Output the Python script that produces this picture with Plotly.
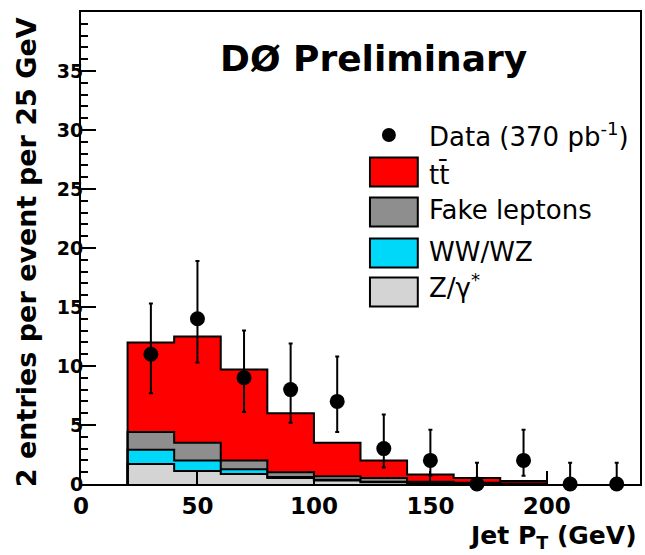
import plotly.graph_objects as go
import numpy as np

# ---------------- data ----------------
bin_edges = [20, 40, 60, 80, 100, 120, 140, 160, 180, 200]
z_gamma = [1.7, 1.1, 0.85, 0.5, 0.3, 0.15, 0.05, 0.02, 0.0]
ww_wz = [1.2, 0.9, 0.4, 0.1, 0.05, 0.05, 0.02, 0.0, 0.0]
fake_leptons = [1.5, 1.5, 0.75, 0.4, 0.3, 0.3, 0.13, 0.08, 0.05]
ttbar = [7.6, 9.0, 7.7, 5.0, 2.85, 1.5, 0.6, 0.4, 0.2]

data_x = [30, 50, 70, 90, 110, 130, 150, 170, 190, 210, 230]
data_y = [11, 14, 9, 8, 7, 3, 2, 0, 2, 0, 0]
data_err_up = [4.3, 4.9, 4.0, 3.9, 3.8, 2.9, 2.6, 1.8, 2.6, 1.8, 1.8]
data_err_dn = [3.3, 3.7, 2.9, 2.8, 2.6, 1.6, 1.3, 0.0, 1.3, 0.0, 0.0]

x_ticks = [0, 50, 100, 150, 200]
y_ticks = [0, 5, 10, 15, 20, 25, 30, 35]

layers = [
    ("Z/γ*", z_gamma, "#d4d4d4"),
    ("WW/WZ", ww_wz, "#00d8fa"),
    ("Fake leptons", fake_leptons, "#8e8e8e"),
    ("tt̄", ttbar, "#ff0000"),
]

fig = go.Figure()
cum = np.zeros(len(z_gamma))
for i, (name, vals, col) in enumerate(layers):
    cum = cum + np.array(vals)
    xs = [bin_edges[0]] + bin_edges[:-1] + [bin_edges[-1], bin_edges[-1]]
    ys = [0.0] + list(cum) + [float(cum[-1]), 0.0]
    fig.add_trace(go.Scatter(
        x=xs, y=ys, mode="lines", line=dict(shape="hv", color="black", width=2),
        fill="tozeroy" if i == 0 else "tonexty", fillcolor=col, name=name,
        showlegend=False, hoverinfo="skip"))

fig.add_trace(go.Scatter(
    x=data_x, y=data_y, mode="markers", name="Data",
    marker=dict(color="black", size=15),
    error_y=dict(type="data", symmetric=False, array=data_err_up,
                 arrayminus=data_err_dn, color="black", thickness=2, width=2),
    cliponaxis=False, showlegend=False))

L, R, T, B = 81, 3, 12, 71
W, H = 645, 555
pw, ph = W - L - R, H - T - B

def px(xp):
    return (xp - L) / pw

def py(yp):
    return (T + ph - yp) / ph

shapes = []
annotations = []
fam = "DejaVu Sans"

# legend (drawn manually to match box style)
box_x0, box_x1 = px(371), px(419)
leg_rows = [("tt̄", "#ff0000", 172, 175),
            ("Fake leptons", "#8e8e8e", 212, 210),
            ("WW/WZ", "#00d8fa", 253, 252),
            ("Z/γ<sup>*</sup>", "#d4d4d4", 292, 286)]
for txt, col, yc, yt in leg_rows:
    shapes.append(dict(type="rect", xref="paper", yref="paper",
                       x0=box_x0, x1=box_x1, y0=py(yc + 14.5), y1=py(yc - 14.5),
                       fillcolor=col, line=dict(color="black", width=2)))
    annotations.append(dict(xref="paper", yref="paper", x=px(428), y=py(yt),
                            xanchor="left", yanchor="middle", showarrow=False,
                            text=txt, font=dict(family=fam, size=26, color="black")))
shapes.append(dict(type="circle", xref="paper", yref="paper",
                   x0=px(383), x1=px(397), y0=py(142), y1=py(128),
                   fillcolor="black", line=dict(color="black", width=0)))
annotations.append(dict(xref="paper", yref="paper", x=px(428), y=py(135),
                        xanchor="left", yanchor="middle", showarrow=False,
                        text="Data (370 pb<sup>-1</sup>)",
                        font=dict(family=fam, size=26, color="black")))

# title
annotations.append(dict(xref="paper", yref="paper", x=px(375), y=py(59),
                        xanchor="center", yanchor="middle", showarrow=False,
                        text="<b>DØ Preliminary</b>",
                        font=dict(family=fam, size=36, color="black")))
# axis titles
annotations.append(dict(xref="paper", yref="paper", x=px(26), y=py(252),
                        xanchor="center", yanchor="middle", showarrow=False, textangle=-90,
                        text="<b>2 entries per event per 25 GeV</b>",
                        font=dict(family=fam, size=27, color="black")))
annotations.append(dict(xref="paper", yref="paper", x=px(641), y=py(537),
                        xanchor="right", yanchor="middle", showarrow=False,
                        text="<b>Jet P<sub>T</sub> (GeV)</b>",
                        font=dict(family=fam, size=25, color="black")))

fig.update_layout(
    width=W, height=H,
    margin=dict(l=L, r=R, t=T, b=B),
    paper_bgcolor="white", plot_bgcolor="white",
    showlegend=False,
    shapes=shapes, annotations=annotations,
    xaxis=dict(range=[0, 240], tickvals=x_ticks, ticktext=[str(v) for v in x_ticks],
               ticks="inside", ticklen=13, tickwidth=2, tickcolor="black",
               showline=True, linecolor="black", linewidth=2, mirror=True,
               showgrid=False, zeroline=False,
               tickfont=dict(family=fam, size=23, color="black", weight="bold")),
    yaxis=dict(range=[0, 40], tickvals=y_ticks, ticktext=[str(v) for v in y_ticks],
               ticks="inside", ticklen=15, tickwidth=2, tickcolor="black",
               minor=dict(dtick=1, ticks="inside", ticklen=7, tickwidth=2, tickcolor="black"),
               showline=True, linecolor="black", linewidth=2, mirror=True,
               showgrid=False, zeroline=False, ticklabelstandoff=-8,
               tickfont=dict(family=fam, size=19, color="black", weight="bold")),
)

fig.write_html("out.html")
